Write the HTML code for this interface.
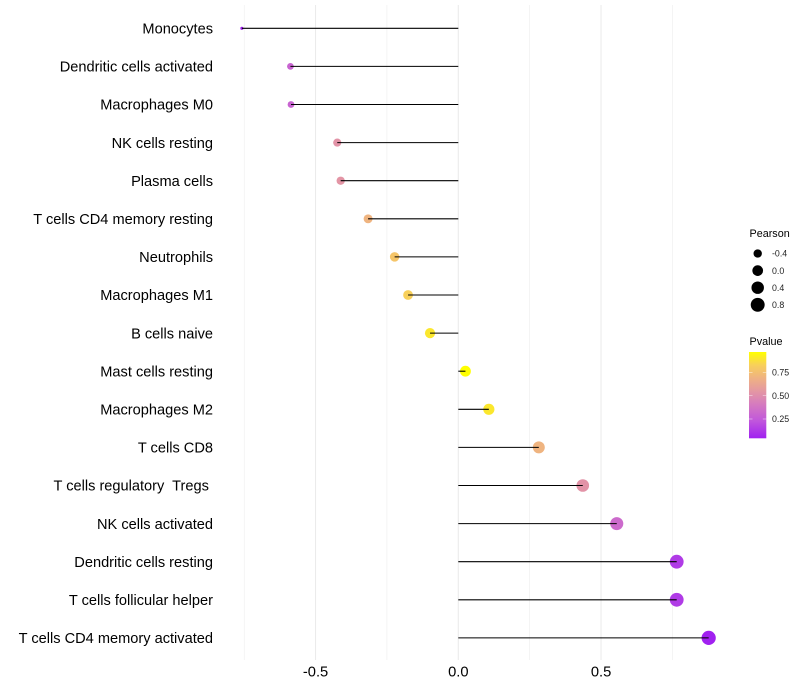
<!DOCTYPE html>
<html>
<head>
<meta charset="utf-8">
<title>Lollipop chart</title>
<style>
html,body{margin:0;padding:0;background:#fff;}
svg{display:block;font-family:"Liberation Sans",Arial,sans-serif;}
</style>
</head>
<body>
<svg id="chart" width="800" height="700" viewBox="0 0 800 700" xmlns="http://www.w3.org/2000/svg">
<defs>
<linearGradient id="pvalue-gradient" x1="0" y1="1" x2="0" y2="0">
<stop offset="0" stop-color="#A020F0"/>
<stop offset="0.2" stop-color="#C056DC"/>
<stop offset="0.4" stop-color="#D67CBE"/>
<stop offset="0.55" stop-color="#E498A2"/>
<stop offset="0.7" stop-color="#EFB282"/>
<stop offset="0.85" stop-color="#F8D05A"/>
<stop offset="1" stop-color="#FFFF00"/>
</linearGradient>
</defs>
<g id="grid"></g>
<g id="points"></g>
<g id="segments"></g>
<g id="ylabels"></g>
<g id="xlabels"></g>
<g id="size-legend"></g>
<g id="color-legend"></g>
</svg>
<script>
const categories = ["Monocytes","Dendritic cells activated","Macrophages M0","NK cells resting","Plasma cells","T cells CD4 memory resting","Neutrophils","Macrophages M1","B cells naive","Mast cells resting","Macrophages M2","T cells CD8","T cells regulatory  Tregs ","NK cells activated","Dendritic cells resting","T cells follicular helper","T cells CD4 memory activated"];
const pearson = [-0.758,-0.588,-0.586,-0.424,-0.412,-0.316,-0.223,-0.176,-0.099,0.025,0.107,0.282,0.436,0.555,0.765,0.765,0.877];
const pvalues = [0.05,0.3,0.3,0.53,0.54,0.7,0.78,0.83,0.9,0.97,0.9,0.7,0.53,0.33,0.14,0.14,0.05];
const majorTicks = [-0.5,0,0.5];
const minorTicks = [-0.75,-0.25,0.25,0.75];
const sizeLegendValues = [-0.4,0,0.4,0.8];
const colorLegendTicks = [0.25,0.5,0.75];

const NS = "http://www.w3.org/2000/svg";
function mk(tag, parent, attrs, text) {
  const el = document.createElementNS(NS, tag);
  for (const k in attrs) el.setAttribute(k, attrs[k]);
  if (text !== undefined) el.textContent = text;
  document.getElementById(parent).appendChild(el);
  return el;
}
function xScale(v) { return 458.3 + v * 285.5; }
function yScale(i) { return 28.3 + i * 38.1; }
const pMin = Math.min(...pearson), pMax = Math.max(...pearson);
function rScale(v) {
  const t = Math.max(0, (v - pMin) / (pMax - pMin));
  return 1.6 + 5.5 * Math.sqrt(t);
}
const colorStops = [[0,[160,32,240]],[0.2,[192,86,220]],[0.4,[214,124,190]],[0.55,[228,152,162]],[0.7,[239,178,130]],[0.85,[248,208,90]],[1,[255,255,0]]];
const pLow = 0.046, pHigh = 0.97;
function colorScale(p) {
  const t = Math.min(1, Math.max(0, (p - pLow) / (pHigh - pLow)));
  for (let i = 1; i < colorStops.length; i++) {
    if (t <= colorStops[i][0]) {
      const a = colorStops[i-1], b = colorStops[i];
      const f = (t - a[0]) / (b[0] - a[0]);
      const c = a[1].map((x, j) => Math.round(x + (b[1][j] - x) * f));
      return "rgb(" + c.join(",") + ")";
    }
  }
  return "rgb(255,255,0)";
}
function cbY(p) { return 442.3 - p * 93.2; }

majorTicks.forEach(function (t) {
  const gl = mk("line", "grid", {x1: xScale(t), x2: xScale(t), y1: 5, y2: 660, stroke: "#ebebeb", "stroke-width": 1.07});
  
  
  const lb = mk("text", "xlabels", {x: xScale(t), y: 676.5, "text-anchor": "middle", "font-size": 14.7, fill: "#000"}, t === 0 ? "0.0" : t.toFixed(1));
  
  
});
minorTicks.forEach(function (t) {
  const gl = mk("line", "grid", {x1: xScale(t), x2: xScale(t), y1: 5, y2: 660, stroke: "#ebebeb", "stroke-width": 0.53});
  
  
});
categories.forEach(function (c, i) {
  const y = yScale(i);
  const pt = mk("circle", "points", {cx: xScale(pearson[i]), cy: y, r: rScale(pearson[i]), fill: colorScale(pvalues[i])});
  
  
  const sg = mk("line", "segments", {x1: xScale(0), x2: xScale(pearson[i]), y1: y, y2: y, stroke: "#000", "stroke-width": 1.07});
  
  
  const lb = mk("text", "ylabels", {x: 213, y: y + 5.2, "text-anchor": "end", "font-size": 14.6, fill: "#000", style: "white-space:pre"}, c);
  
  
});

const t1 = mk("text", "size-legend", {x: 749.5, y: 237, "font-size": 10.8, fill: "#000"}, "Pearson");


sizeLegendValues.forEach(function (v, i) {
  const y = 253.5 + i * 17.1;
  const d = mk("circle", "size-legend", {cx: 757.7, cy: y, r: rScale(v), fill: "#000"});
  
  
  const l = mk("text", "size-legend", {x: 772, y: y + 3.2, "font-size": 8.8, fill: "#222"}, v.toFixed(1));
  
  
});

const t2 = mk("text", "color-legend", {x: 749.5, y: 345, "font-size": 10.8, fill: "#000"}, "Pvalue");


const bar = mk("rect", "color-legend", {x: 749, y: 352, width: 17.3, height: 86.3, fill: "url(#pvalue-gradient)"});


colorLegendTicks.forEach(function (p) {
  const y = cbY(p);
  const a = mk("line", "color-legend", {x1: 749, x2: 752.5, y1: y, y2: y, stroke: "#fff", "stroke-opacity": 0.7, "stroke-width": 0.6});
  
  
  const b = mk("line", "color-legend", {x1: 762.8, x2: 766.3, y1: y, y2: y, stroke: "#fff", "stroke-opacity": 0.7, "stroke-width": 0.6});
  
  
  const l = mk("text", "color-legend", {x: 772, y: y + 3.2, "font-size": 8.8, fill: "#222"}, p.toFixed(2));
  
  
});
</script>
</body>
</html>
